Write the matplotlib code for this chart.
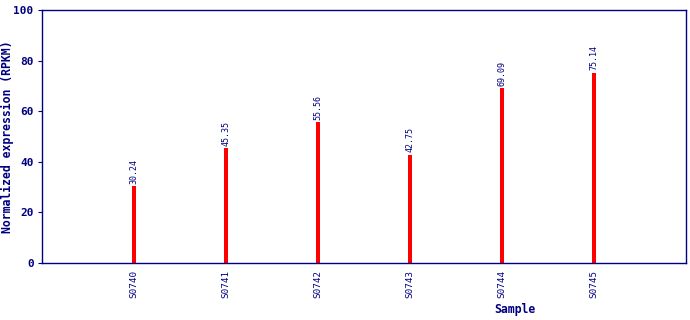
import matplotlib
matplotlib.use("Agg")
import matplotlib.pyplot as plt

# sample names and expression values
samples = ["S0740", "S0741", "S0742", "S0743", "S0744", "S0745"]
rpkm = [30.24, 45.35, 55.56, 42.75, 69.09, 75.14]
yticks = [0, 20, 40, 60, 80, 100]

navy = "#000080"
plt.rcParams["font.family"] = ["DejaVu Sans Mono"]

fig = plt.figure(figsize=(6.9, 3.2), dpi=100)
ax = fig.add_axes([42 / 690, 57 / 320, 644 / 690, 253 / 320])

pos = list(range(1, len(samples) + 1))
ax.bar(pos, rpkm, width=0.045, color="#ff0000", linewidth=0)

# value labels above each bar
for x, v in zip(pos, rpkm):
    ax.text(x, v + 1.0, f"{v:.2f}", rotation=90, ha="center", va="bottom",
            fontsize=6, color=navy)

ax.set_xlim(0, len(samples) + 1)
ax.set_ylim(0, 100)
ax.set_xticks(pos)
ax.set_xticklabels(samples, rotation=90, fontsize=6.7, color=navy)
ax.set_yticks(yticks)
ax.set_yticklabels([str(t) for t in yticks], fontsize=8, fontweight="bold", color=navy)
ax.tick_params(axis="x", length=0, pad=5)
ax.tick_params(axis="y", length=3, color=navy, pad=3)

for s in ax.spines.values():
    s.set_color(navy)
    s.set_linewidth(1)

ax.set_xlabel("Sample", fontsize=8.3, fontweight="bold", color=navy)
ax.set_ylabel("Normalized expression (RPKM)", fontsize=8.3, fontweight="bold", color=navy)
ax.xaxis.set_label_coords(0.734, -0.182)
ax.yaxis.set_label_coords(-0.054, 0.5)
ax.xaxis.label.set_va("center")
ax.yaxis.label.set_va("center")

fig.savefig("out.png", dpi=100)
